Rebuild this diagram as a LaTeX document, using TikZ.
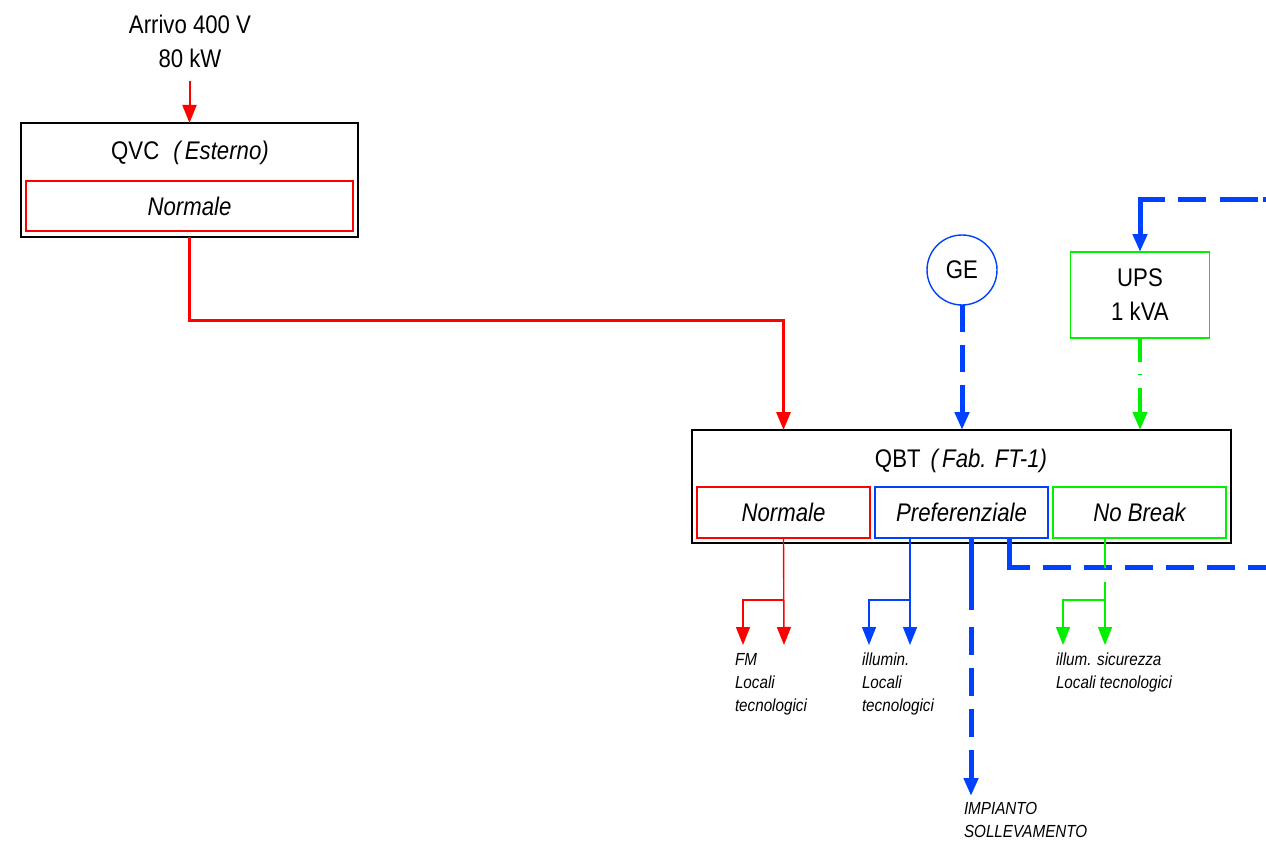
\documentclass[tikz,border=0pt]{standalone}
\usepackage{fontspec}
\setmainfont[FakeStretch=0.87]{Liberation Sans}
\usetikzlibrary{arrows.meta}
\definecolor{cred}{RGB}{255,0,0}
\definecolor{cblue}{RGB}{0,64,255}
\definecolor{cgreen}{RGB}{0,240,0}
\begin{document}
\begin{tikzpicture}[x=1pt,y=-1pt,
  every node/.style={inner sep=0pt, outer sep=0pt},
  bigtxt/.style={font=\fontsize{25.5}{34}\selectfont},
  lbl/.style={font=\fontsize{17.5}{23}\selectfont\itshape, align=left, anchor=north west},
  panel/.style={draw=black, line width=1.4pt, fill=white},
  sub/.style={line width=1.4pt, minimum width=173pt, minimum height=51pt, font=\fontsize{25.5}{30}\selectfont\itshape},
  feed/.style={-{Triangle[length=18pt,width=14pt]}},
  thinline/.style={line width=1.4pt},
  thickdash/.style={line width=5pt, cblue}
]
\useasboundingbox (0,0) rectangle (1266,845);
% incoming supply
\node[bigtxt, align=center] (arr) at (190,41) {Arrivo 400 V\\80 kW};
% QVC
\node[panel, minimum width=337pt, minimum height=114pt] (qvc) at (189.5,180) {};
\node[bigtxt, anchor=base] (qvct) at (190,160) {QVC\hspace{14pt}\textit{(\,Esterno)}};
\node[sub, draw=cred, minimum width=327pt, minimum height=50pt] (qvcn) at (189.5,206) {Normale};
% QBT
\node[panel, minimum width=539pt, minimum height=113pt] (qbt) at (961.5,486.5) {};
\node[bigtxt, anchor=base] (qbtt) at (961,467) {QBT\hspace{10pt}\textit{(\,Fab. FT-1)}};
\node[sub, draw=cred] (nrm) at (783.5,512.5) {Normale};
\node[sub, draw=cblue] (pref) at (961.5,512.5) {Preferenziale};
\node[sub, draw=cgreen] (nb) at (1139.5,512.5) {No Break};
% GE and UPS
\node[circle, draw=cblue, line width=1.4pt, minimum size=70pt, bigtxt] (ge) at (962,270) {GE};
\node[draw=cgreen, line width=1.4pt, minimum width=139pt, minimum height=86pt, bigtxt, align=center] (ups) at (1140,295) {UPS\\1 kVA};
% free ends
\coordinate (rb) at (783.5,320);
\coordinate (tr) at (1266,200);
\coordinate (brr) at (1266,567);
\coordinate (ry) at (0,600);
\coordinate (r1) at (743,645);
\coordinate (r2) at (784,645);
\coordinate (b1) at (869,645);
\coordinate (b2) at (910,645);
\coordinate (g1) at (1063,645);
\coordinate (g2) at (1105,645);
\coordinate (impt) at (971,796);
% labels
\node[lbl] (lfm) at (735,653) {FM\\Locali\\tecnologici};
\node[lbl] (lil) at (862,653) {illumin.\\Locali\\tecnologici};
\node[lbl] (lsic) at (1056,653) {illum. sicurezza\\Locali tecnologici};
\node[lbl] (limp) at (964,802) {IMPIANTO\\SOLLEVAMENTO};
% connectors
\draw[feed, cred, line width=2pt, shorten <=14pt] (qvc.north |- arr.south) -- (qvc.north);
\draw[feed, cred, line width=3pt] (qvc.south) |- (rb) -- (rb |- qbt.north);
\draw[feed, thickdash, dash pattern=on 27pt off 13pt] (ge.south) -- (ge.south |- qbt.north);
\draw[feed, cgreen, line width=4pt, dash pattern=on 24pt off 12pt on 1pt off 13pt on 80pt] (ups.south) -- (ups.south |- qbt.north);
\draw[feed, thickdash, dash pattern=on 3pt off 5pt on 38pt off 14pt on 28pt off 13pt on 200pt] (tr) -| (ups.north);
\draw[thickdash, dash pattern=on 50pt off 13pt on 28pt off 13pt on 28pt off 13pt on 28pt off 13pt on 28pt off 13pt on 28pt off 13pt on 28pt off 13pt] ([xshift=47.5pt]pref.south) |- (brr);
\draw[feed, thickdash, dash pattern=on 72pt off 17pt on 28pt off 13pt on 28pt off 13pt on 28pt off 13pt on 40pt] ([xshift=9.5pt]pref.south) -- (impt);
% red branches
\draw[feed, thinline, cred] (nrm.south) -- (r2);
\draw[feed, thinline, cred] (nrm.south |- ry) -| (r1);
% blue branches
\draw[feed, thinline, cblue] ([xshift=-51.5pt]pref.south) -- (b2);
\draw[feed, thinline, cblue] (b2 |- ry) -| (b1);
% green branches
\draw[feed, thinline, cgreen, dash pattern=on 30pt off 14pt on 200pt] ([xshift=-34.5pt]nb.south) -- (g2);
\draw[feed, thinline, cgreen] (g2 |- ry) -| (g1);
\end{tikzpicture}
\end{document}
